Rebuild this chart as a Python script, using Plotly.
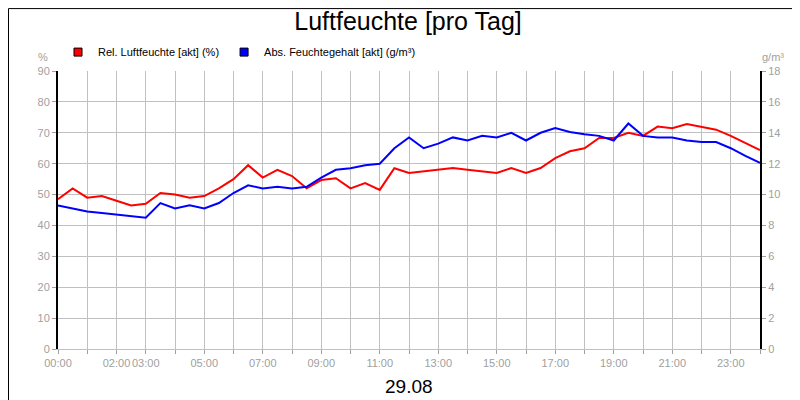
import plotly.graph_objects as go

hours = [i * 0.5 for i in range(49)]
rel = [48.5, 52, 49, 49.5, 48, 46.5, 47, 50.5, 50, 49, 49.5, 52, 55, 59.5, 55.5, 58, 56, 52,
       54.7, 55.3, 52, 53.7, 51.5, 58.5, 57, 57.6, 58, 58.6, 58, 57.6, 57, 58.6, 57, 58.6, 61.8,
       64, 65, 68.3, 68.3, 70, 69, 72, 71.5, 72.8, 72, 71, 69, 66.7, 64.4]
absf = [9.3, 9.1, 8.9, 8.8, 8.7, 8.6, 8.5, 9.45, 9.1, 9.3, 9.1, 9.45, 10.1, 10.6, 10.4, 10.5,
        10.4, 10.5, 11.1, 11.6, 11.7, 11.9, 12.0, 13.0, 13.7, 13.0, 13.3, 13.7, 13.5, 13.8, 13.7,
        14.0, 13.5, 14.0, 14.3, 14.05, 13.9, 13.8, 13.5, 14.6, 13.8, 13.7, 13.7, 13.5, 13.4, 13.4,
        13.0, 12.5, 12.05]
tick_labels = ["00:00", "", "02:00", "03:00", "", "05:00", "", "07:00", "", "09:00", "", "11:00", "",
               "13:00", "", "15:00", "", "17:00", "", "19:00", "", "21:00", "", "23:00", ""]
names = ["Rel. Luftfeuchte [akt] (%)", "Abs. Feuchtegehalt [akt] (g/m³)"]

gray = "#a0a0a0"
fig = go.Figure()
fig.add_trace(go.Scatter(x=hours, y=rel, mode="lines", showlegend=False,
                         line=dict(color="#ff0000", width=2)))
fig.add_trace(go.Scatter(x=hours, y=absf, mode="lines", showlegend=False,
                         line=dict(color="#0000ff", width=2), yaxis="y2"))
for n, c in zip(names, ["#ff0000", "#0000ff"]):
    fig.add_trace(go.Scatter(x=[None], y=[None], mode="markers", name=n,
                             marker=dict(symbol="square", size=8, color=c,
                                         line=dict(color="black", width=1))))
fig.update_layout(
    width=800, height=400, paper_bgcolor="white", plot_bgcolor="white",
    margin=dict(l=50, r=48, t=63, b=59, autoexpand=False),
    font=dict(family="Liberation Sans, Arial", size=11, color="black"),
    title=dict(text="Luftfeuchte [pro Tag]", x=0.5, xanchor="center", y=0.99, yanchor="top",
               font=dict(size=25)),
    showlegend=True,
    legend=dict(orientation="h", x=0.0, xanchor="left", y=1.068, yanchor="middle",
                font=dict(size=11), bgcolor="rgba(0,0,0,0)", itemwidth=30, tracegroupgap=0),
    xaxis=dict(range=[0, 24], tickvals=list(range(25)), ticktext=tick_labels, tickangle=0,
               showgrid=True, gridcolor="#c0c0c0", ticks="outside", ticklen=4, tickcolor=gray,
               tickfont=dict(color=gray, size=11), showline=True, linecolor="#c0c0c0",
               zeroline=False, automargin=False),
    yaxis=dict(range=[0, 90], dtick=10, showgrid=True, gridcolor="#c0c0c0", ticks="outside",
               ticklen=4, tickcolor=gray, tickfont=dict(color=gray, size=11), automargin=False,
               showline=True, linecolor="black", linewidth=2, zeroline=False),
    yaxis2=dict(range=[0, 18], dtick=2, overlaying="y", side="right", showgrid=False,
                ticks="outside", ticklen=4, tickcolor=gray, tickfont=dict(color=gray, size=11),
                showline=True, linecolor="black", linewidth=2, zeroline=False, automargin=False),
    shapes=[dict(type="rect", xref="paper", yref="paper", x0=-0.0705, x1=1.0675, y0=-0.2095,
                 y1=1.2245, line=dict(color="black", width=1))],
    annotations=[
        dict(text="%", xref="paper", yref="paper", x=-0.012, y=1.02, xanchor="right", yanchor="bottom",
             showarrow=False, font=dict(color=gray, size=11)),
        dict(text="g/m³", xref="paper", yref="paper", x=1.0, y=1.02, xanchor="left", yanchor="bottom",
             showarrow=False, font=dict(color=gray, size=11)),
        dict(text="29.08", xref="paper", yref="paper", x=0.5, y=-0.09, xanchor="center", yanchor="top",
             showarrow=False, font=dict(color="black", size=19)),
    ],
)
fig.write_html("out.html")
